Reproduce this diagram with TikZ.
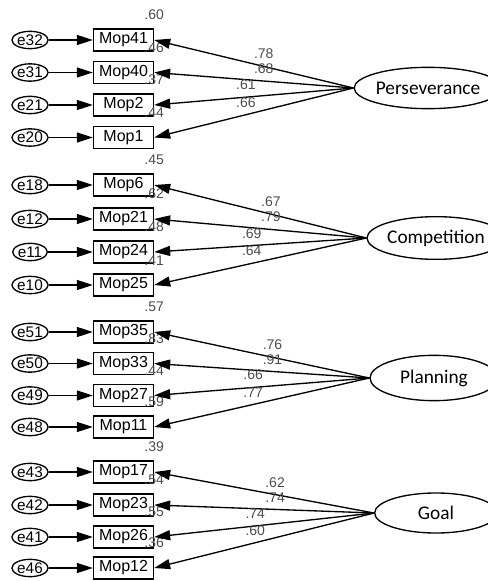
\documentclass[tikz,border=0pt]{standalone}
\usepackage{fontspec}
\setmainfont{Liberation Sans}
\newfontfamily\latfont{Carlito}
\usepackage{tikz}
\usetikzlibrary{shapes.geometric,arrows.meta}

\begin{document}
\begin{tikzpicture}[x=0.75pt,y=-0.75pt,
	err/.style={ellipse,draw,line width=1pt,inner sep=0pt,minimum width=22.5pt,minimum height=13pt,font=\fontsize{11.5}{12}\selectfont},
	obs/.style={rectangle,draw,line width=1pt,inner sep=0pt,minimum width=45pt,minimum height=16.5pt,font=\fontsize{12}{13}\selectfont},
	lat/.style={ellipse,draw,line width=1pt,inner sep=0pt,minimum width=90pt,minimum height=31pt,font=\latfont\fontsize{14.5}{15}\selectfont},
	num/.style={font=\fontsize{10.5}{11}\selectfont,text=black!70,inner sep=0pt},
	arr/.style={line width=1pt,-{Triangle[length=12pt,width=7.5pt]}}
	]
	\useasboundingbox (0,0) rectangle (488,581);
	\clip (0,0) rectangle (488,581);
	\foreach \e/\m/\y/\r in {e32/Mop41/40/.60,e31/Mop40/72.5/.46,e21/Mop2/105/.37,e20/Mop1/137.5/.44,
		e18/Mop6/185/.45,e12/Mop21/219/.62,e11/Mop24/252/.48,e10/Mop25/285/.41,
		e51/Mop35/332/.57,e50/Mop33/363.5/.83,e49/Mop27/395.5/.44,e48/Mop11/427/.59,
		e43/Mop17/472/.39,e42/Mop23/505/.54,e41/Mop26/537/.55,e46/Mop12/568/.36}
	{
		\node[err] (\e) at (30,\y) {\e};
		\node[obs] (\m) at (123.5,\y) {\m};
		\node[num,above=6pt] at (\m.north east) {\r};
		\draw[arr] (\e) -- (\m);
	}
	\node[lat] (Perseverance) at (428,88) {Perseverance};
	\node[lat,minimum width=89pt,minimum height=32pt] (Competition) at (436,238) {Competition};
	\node[lat,minimum width=96pt,minimum height=34pt] (Planning) at (434,378) {Planning};
	\node[lat,minimum width=92pt,minimum height=30pt] (Goal) at (436,513) {Goal};
	\foreach \l/\m/\v/\p in {Perseverance/Mop41/.78/0.45,Perseverance/Mop40/.68/0.45,Perseverance/Mop2/.61/0.54,Perseverance/Mop1/.66/0.54,
		Competition/Mop6/.67/0.45,Competition/Mop21/.79/0.45,Competition/Mop24/.69/0.54,Competition/Mop25/.64/0.54,
		Planning/Mop35/.76/0.45,Planning/Mop33/.91/0.45,Planning/Mop27/.66/0.54,Planning/Mop11/.77/0.54,
		Goal/Mop17/.62/0.45,Goal/Mop23/.74/0.45,Goal/Mop26/.74/0.54,Goal/Mop12/.60/0.54}
		\draw[arr] (\l.west) -- node[num,above=5pt,pos=\p] {\v} (\m.east);
\end{tikzpicture}
\end{document}
